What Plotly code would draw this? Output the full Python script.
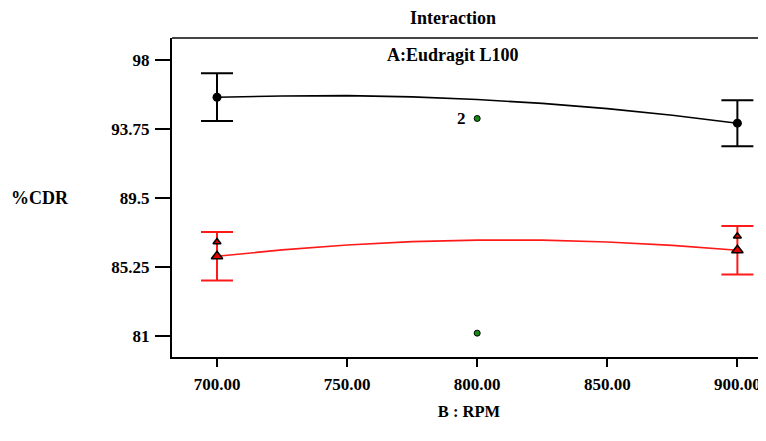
import plotly.graph_objects as go

# ---- data ----
rpm_levels = [700, 900]
black_mean = [95.71, 94.11]
black_err = [1.47, 1.42]
red_mean = [85.91, 86.28]
red_err = [1.50, 1.50]
red_extra = [86.79, 87.14]

curve_x = [700, 725, 750, 775, 800, 825, 850, 875, 900]
black_curve = [95.71, 95.79, 95.81, 95.73, 95.57, 95.33, 95.01, 94.60, 94.11]
red_curve = [85.91, 86.30, 86.60, 86.81, 86.90, 86.90, 86.79, 86.58, 86.28]

center_x = [800, 800]
center_y = [94.40, 81.17]

x_ticks = [700, 750, 800, 850, 900]
x_tick_labels = ["700.00", "750.00", "800.00", "850.00", "900.00"]
y_ticks = [81, 85.25, 89.5, 93.75, 98]
y_tick_labels = ["81", "85.25", "89.5", "93.75", "98"]

FONT = "Liberation Serif"

fig = go.Figure()

fig.add_trace(go.Scatter(x=curve_x, y=black_curve, mode="lines",
                         line=dict(color="black", width=1.6), showlegend=False))
fig.add_trace(go.Scatter(x=curve_x, y=red_curve, mode="lines",
                         line=dict(color="#ff1a1a", width=1.6), showlegend=False))

fig.add_trace(go.Scatter(x=rpm_levels, y=black_mean, mode="markers",
                         marker=dict(color="black", size=9, symbol="circle"),
                         error_y=dict(type="data", array=black_err, color="black",
                                      thickness=2, width=16),
                         showlegend=False))
fig.add_trace(go.Scatter(x=rpm_levels, y=red_mean, mode="markers",
                         marker=dict(color="#e00000", size=10, symbol="triangle-up",
                                     line=dict(color="black", width=1.5)),
                         error_y=dict(type="data", array=red_err, color="#ff1a1a",
                                      thickness=2, width=16),
                         showlegend=False))
fig.add_trace(go.Scatter(x=rpm_levels, y=red_extra, mode="markers",
                         marker=dict(color="#e00000", size=7, symbol="triangle-up",
                                     line=dict(color="black", width=1.5)),
                         showlegend=False))
fig.add_trace(go.Scatter(x=center_x, y=center_y, mode="markers",
                         marker=dict(color="#138a13", size=6, symbol="circle",
                                     line=dict(color="black", width=1)),
                         showlegend=False))

fig.add_annotation(x=center_x[0], y=center_y[0], text="<b>2</b>", showarrow=False,
                   xanchor="right", xshift=-9, font=dict(family=FONT, size=17, color="black"))

# The page body has an 8px margin, so the figure is sized/offset to compensate.
fig.update_layout(
    width=758, height=433,
    margin=dict(l=164, r=0, t=30, b=84),
    paper_bgcolor="white", plot_bgcolor="white",
    font=dict(family=FONT, color="black"),
    title=dict(text="<b>Interaction</b>", x=0.473, xanchor="center", xref="paper",
               y=0.977, yanchor="middle", font=dict(family=FONT, size=18, color="black")),
    xaxis=dict(range=[682.7, 911], tickvals=x_ticks,
               ticktext=["<b>%s</b>" % t for t in x_tick_labels],
               showgrid=False, zeroline=False, showline=True, linecolor="black",
               linewidth=2, ticks="outside", ticklen=8, tickwidth=2, tickcolor="black",
               ticklabelstandoff=3,
               tickfont=dict(family=FONT, size=17, color="black"),
               title=dict(text="<b>B : RPM</b>", standoff=12,
                          font=dict(family=FONT, size=16.5, color="black"))),
    yaxis=dict(range=[79.7, 99.36], tickvals=y_ticks,
               ticktext=["<b>%s</b>" % t for t in y_tick_labels],
               showgrid=False, zeroline=False, showline=True, linecolor="black",
               linewidth=2, ticks="outside", ticklen=15, tickwidth=1.5, tickcolor="black",
               ticklabelstandoff=2,
               tickfont=dict(family=FONT, size=17, color="black")),
)

# top border of the plot box
fig.add_shape(type="line", xref="paper", yref="paper", x0=0, x1=1, y0=1, y1=1,
              line=dict(color="#444444", width=2))

fig.add_annotation(xref="paper", yref="paper", x=0.473, y=1, yanchor="top", yshift=-5,
                   text="<b>A:Eudragit L100</b>", showarrow=False,
                   font=dict(family=FONT, size=18, color="black"))
fig.add_annotation(xref="paper", yref="paper", x=-0.274, y=0.5, xanchor="left",
                   yanchor="middle", text="<b>%CDR</b>", showarrow=False,
                   font=dict(family=FONT, size=18, color="black"))

fig.write_html("out.html")
